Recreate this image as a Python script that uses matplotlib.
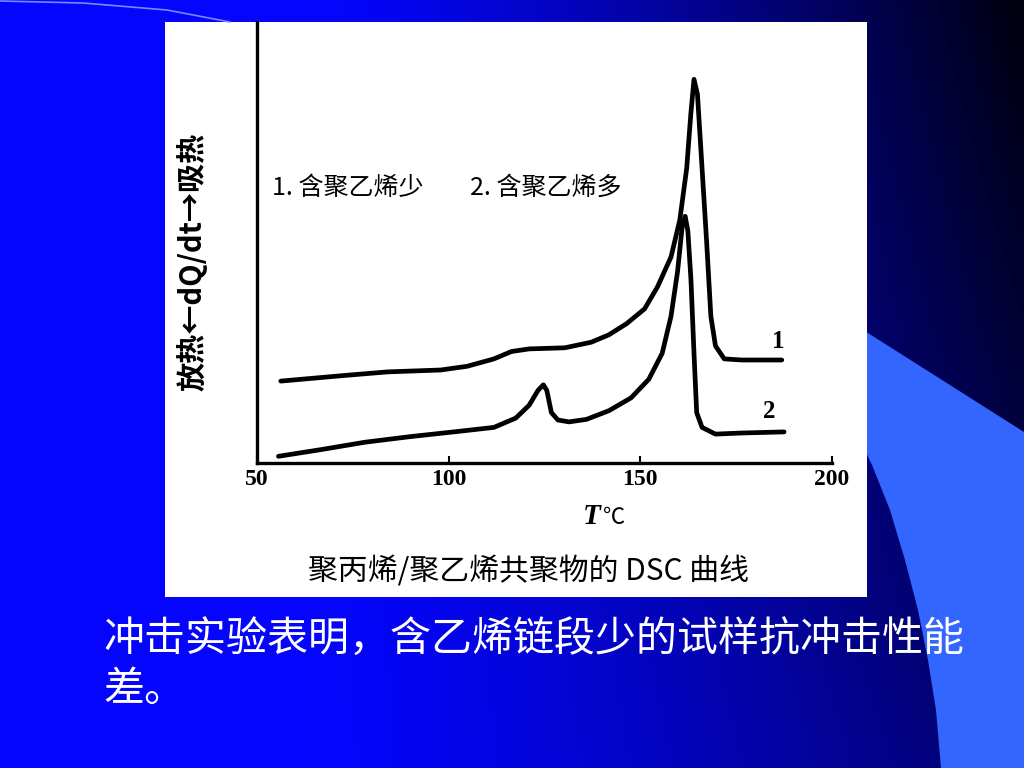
import numpy as np
import matplotlib
matplotlib.use("Agg")
import matplotlib.pyplot as plt
from matplotlib.patches import Rectangle, Polygon

plt.rcParams['font.family'] = ['Noto Sans CJK SC', 'DejaVu Sans']

# DSC curve 1 (less polyethylene)
temp_1 = [56.2, 72.4, 84.0, 97.9, 104.8, 111.8, 116.4, 121.0, 130.3, 137.2, 141.8,
          146.4, 151.1, 154.5, 158.0, 160.3, 162.1, 163.2, 164.0, 164.9, 166.1,
          167.3, 168.4, 169.6, 171.9, 176.5, 186.9]
heat_1 = [81.9, 87.4, 91.1, 93.0, 96.7, 104.1, 111.5, 114.1, 115.2, 120.8, 128.2,
          139.3, 154.1, 176.3, 206.0, 243.0, 294.9, 350.4, 383.7, 368.9, 294.9,
          220.8, 146.7, 117.1, 104.1, 103.0, 103.0]

# DSC curve 2 (more polyethylene)
temp_2 = [55.6, 66.7, 78.2, 89.8, 101.3, 111.8, 117.5, 121.0, 123.3, 124.7, 125.6,
          126.8, 128.5, 131.4, 136.0, 141.8, 147.6, 152.2, 155.7, 158.0, 159.7,
          160.9, 161.7, 162.4, 163.2, 164.0, 164.7, 166.1, 169.6, 176.5, 187.5]
heat_2 = [6.7, 13.4, 20.8, 26.3, 31.1, 35.6, 44.9, 57.8, 72.6, 78.2, 72.6,
          50.4, 43.0, 41.1, 43.7, 52.3, 65.2, 83.7, 109.7, 146.7, 191.1,
          235.6, 246.7, 231.9, 183.7, 109.7, 50.4, 35.6, 28.9, 30.0, 31.1]

x_ticks = [50, 100, 150, 200]

fig = plt.figure(figsize=(10.24, 7.68), dpi=100)

# slide background (pixel coordinates)
bg = fig.add_axes([0, 0, 1, 1], zorder=0)
bg.set_xlim(0, 1024)
bg.set_ylim(768, 0)
bg.axis('off')
xx = np.linspace(0, 1, 512)
yy = np.linspace(0, 1, 384)
X, Y = np.meshgrid(xx, yy)
blue = np.clip(1.0 - np.clip((X - 0.3) / 0.7, 0, 1) ** 1.3 * (0.95 - 0.35 * Y), 0, 1)
img = np.zeros((384, 512, 3))
img[..., 2] = blue
img[..., 0] = 0.02 * blue
img[..., 1] = 0.02 * blue
bg.imshow(img, extent=(0, 1024, 768, 0), aspect='auto', interpolation='bilinear')
bg.add_patch(Polygon([(860, 328), (1024, 432), (1024, 768), (941, 768), (936, 710),
                      (928, 660), (918, 610), (905, 560), (890, 510), (872, 465),
                      (860, 440)],
                     closed=True, facecolor='#3366ff', edgecolor='none'))
bg.plot([0, 83, 167, 230], [1, 3, 10, 22], color='#6f8cff', lw=1.2)
bg.add_patch(Rectangle((165, 22), 702, 575, facecolor='white', edgecolor='none'))

bg.text(103, 640, '冲击实验表明，含乙烯链段少的试样抗冲击性能', color='white',
        fontsize=29.5, va='center', ha='left', fontweight='medium')
bg.text(103, 690, '差。', color='white', fontsize=29.5, va='center', ha='left',
        fontweight='medium')

# chart
ax = fig.add_axes([257 / 1024, (768 - 463) / 768, 575 / 1024, 441 / 768], zorder=1)
ax.patch.set_alpha(0)
ax.plot(temp_1, heat_1, color='black', lw=3.4, solid_capstyle='round',
        solid_joinstyle='round')
ax.plot(temp_2, heat_2, color='black', lw=3.4, solid_capstyle='round',
        solid_joinstyle='round')
ax.set_xlim(50, 199)
ax.set_ylim(0, 441)
for s in ['top', 'right']:
    ax.spines[s].set_visible(False)
for s in ['left', 'bottom']:
    ax.spines[s].set_linewidth(2.4)
ax.set_xticks(x_ticks)
ax.set_xticklabels([str(t) for t in x_ticks], fontfamily='Liberation Serif',
                   fontweight='bold', fontsize=17)
ax.tick_params(axis='x', direction='in', length=5, width=1.5, pad=4)
ax.set_yticks([])
ax.get_xticklabels()[-1].set_clip_on(False)

ax.text(186, 121, '1', fontfamily='Liberation Serif', fontweight='bold', fontsize=18,
        ha='center', va='center')
ax.text(183.7, 51, '2', fontfamily='Liberation Serif', fontweight='bold', fontsize=18,
        ha='center', va='center')

ax.text(54, 275, '1. 含聚乙烯少', fontsize=18, ha='left', va='center')
ax.text(105.5, 275, '2. 含聚乙烯多', fontsize=18, ha='left', va='center')

bg.text(601, 516, 'T', fontfamily='Liberation Serif', fontweight='bold',
        fontstyle='italic', fontsize=21, ha='right', va='center')
bg.text(603, 518, '℃', fontsize=16, ha='left', va='center')

bg.text(192, 262, '放热←dQ/dt→吸热', fontsize=21, fontweight='bold',
        rotation=90, ha='center', va='center')

bg.text(528, 572, '聚丙烯/聚乙烯共聚物的 DSC 曲线', fontsize=21.5,
        ha='center', va='center')

fig.savefig('out.png', dpi=100)
